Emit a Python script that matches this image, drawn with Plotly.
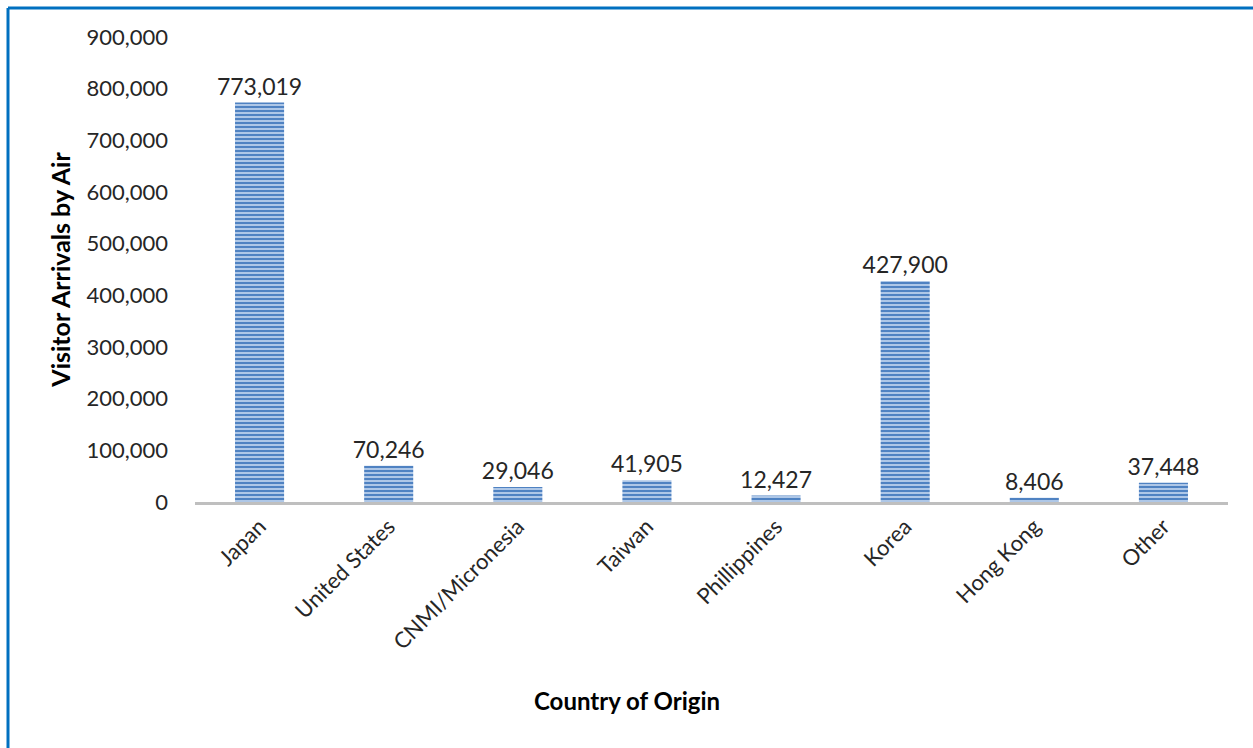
import plotly.graph_objects as go

countries = ["Japan", "United States", "CNMI/Micronesia", "Taiwan",
             "Phillippines", "Korea", "Hong Kong", "Other"]
arrivals = [773019, 70246, 29046, 41905, 12427, 427900, 8406, 37448]
y_ticks = [0, 100000, 200000, 300000, 400000, 500000, 600000, 700000, 800000, 900000]

FONT = "Lato, 'Open Sans', sans-serif"
W, H = 1253, 748
L, R, T, B = 195, 25, 37, 246
pw, ph = W - L - R, H - T - B

fig = go.Figure()
fig.add_trace(go.Bar(
    x=countries,
    y=arrivals,
    width=0.38,
    marker=dict(
        color="#c6d9f1",
        line=dict(width=0),
        pattern=dict(shape="-", fgcolor="#4f82c2", bgcolor="#c6d9f1",
                     size=4, solidity=0.6, fillmode="replace"),
    ),
    text=[f"{v:,}" for v in arrivals],
    textposition="outside",
    constraintext="none",
    textfont=dict(family=FONT, size=23, color="#262626"),
    cliponaxis=False,
))

fig.update_layout(
    width=W, height=H,
    margin=dict(l=L, r=R, t=T, b=B),
    paper_bgcolor="white", plot_bgcolor="white",
    showlegend=False,
    font=dict(family=FONT, size=22, color="#262626"),
    xaxis=dict(
        tickangle=-45,
        showgrid=False,
        showline=True, linecolor="#bfbfbf", linewidth=3,
        ticks="",
        tickfont=dict(family=FONT, size=22, color="#262626"),
    ),
    yaxis=dict(
        range=[0, 900000],
        tickvals=y_ticks,
        tickformat=",",
        showgrid=False, zeroline=False, showline=False,
        ticks="",
        ticklabelstandoff=26,
        tickfont=dict(family=FONT, size=22, color="#262626"),
        title=dict(text="<b>Visitor Arrivals by Air</b>", standoff=8,
                   font=dict(family=FONT, size=25, color="#000000")),
    ),
    bargap=0.62,
)

# Category-axis title, centred under the whole chart area
fig.add_annotation(
    text="<b>Country of Origin</b>", showarrow=False,
    xref="paper", yref="paper",
    x=(627 - L) / pw, y=(H - B - 700) / ph,
    xanchor="center", yanchor="middle",
    font=dict(family=FONT, size=24, color="#000000"),
)

# Blue frame along the top and left edges of the chart
x_left = (8 - L) / pw
y_top = (H - B - 8) / ph
fig.add_shape(type="line", xref="paper", yref="paper",
              x0=x_left, x1=(W - L) / pw, y0=y_top, y1=y_top,
              line=dict(color="#0070c0", width=3))
fig.add_shape(type="line", xref="paper", yref="paper",
              x0=x_left, x1=x_left, y0=y_top, y1=-B / ph,
              line=dict(color="#0070c0", width=3))

fig.write_html("out.html")
